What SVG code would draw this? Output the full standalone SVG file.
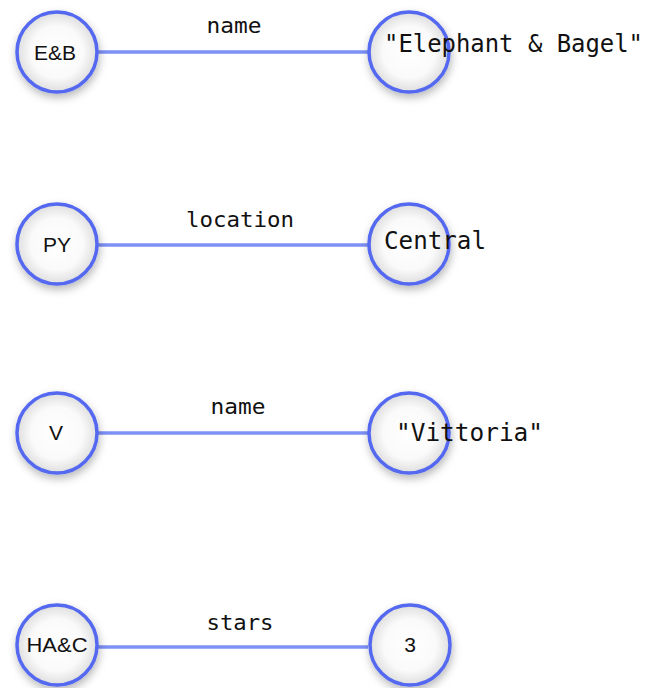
<svg xmlns="http://www.w3.org/2000/svg" width="652" height="688" viewBox="0 0 652 688">
<defs>
<radialGradient id="fillg" cx="50%" cy="50%" r="50%">
<stop offset="0%" stop-color="#ffffff"/>
<stop offset="65%" stop-color="#fafafa"/>
<stop offset="100%" stop-color="#dedede"/>
</radialGradient>
<filter id="shadow" x="-40%" y="-40%" width="180%" height="190%">
<feDropShadow dx="1" dy="4" stdDeviation="4" flood-color="#000" flood-opacity="0.28"/>
</filter>
</defs>
<style>
.node{fill:url(#fillg);stroke:#5468f0;stroke-width:3.5;filter:url(#shadow)}
.edge{stroke:#6f84f5;stroke-width:3.5;stroke-opacity:0.9}
.nlabel{font-family:"Liberation Sans",Arial,sans-serif;font-size:21px;fill:#111;text-anchor:middle}
.elabel{font-family:"DejaVu Sans Mono",monospace;font-size:21px;fill:#111;text-anchor:middle}
.value{font-family:"DejaVu Sans Mono",monospace;font-size:25px;fill:#111}
</style>
<rect width="652" height="688" fill="#ffffff"/>
<g id="connectors">
<line class="edge" x1="98" y1="52" x2="368" y2="52"/>
<line class="edge" x1="98" y1="245" x2="368" y2="245"/>
<line class="edge" x1="98" y1="433" x2="368" y2="433"/>
<line class="edge" x1="98" y1="647" x2="368" y2="647"/>
<text class="elabel" x="234" y="33" textLength="55" lengthAdjust="spacingAndGlyphs">name</text>
<text class="elabel" x="240" y="227" textLength="108" lengthAdjust="spacingAndGlyphs">location</text>
<text class="elabel" x="238" y="414" textLength="55" lengthAdjust="spacingAndGlyphs">name</text>
<text class="elabel" x="240" y="630" textLength="67" lengthAdjust="spacingAndGlyphs">stars</text>
</g>
<g id="node-eb">
<circle class="node" cx="57" cy="52" r="40"/>
<text class="nlabel" x="55" y="60">E&amp;B</text>
</g>
<g id="node-eb-name">
<circle class="node" cx="409" cy="52" r="40"/>
<text class="value" x="384" y="52" textLength="259" lengthAdjust="spacingAndGlyphs">"Elephant &amp; Bagel"</text>
</g>
<g id="node-py">
<circle class="node" cx="57" cy="244" r="40"/>
<text class="nlabel" x="57" y="252">PY</text>
</g>
<g id="node-central">
<circle class="node" cx="409" cy="244" r="40"/>
<text class="value" x="384" y="249" textLength="102" lengthAdjust="spacingAndGlyphs">Central</text>
</g>
<g id="node-v">
<circle class="node" cx="57" cy="433" r="40"/>
<text class="nlabel" x="56" y="440">V</text>
</g>
<g id="node-vittoria">
<circle class="node" cx="409" cy="433" r="40"/>
<text class="value" x="396" y="441" textLength="147" lengthAdjust="spacingAndGlyphs">"Vittoria"</text>
</g>
<g id="node-hac">
<circle class="node" cx="57" cy="645" r="40"/>
<text class="nlabel" x="57" y="652" textLength="61" lengthAdjust="spacingAndGlyphs">HA&amp;C</text>
</g>
<g id="node-3">
<circle class="node" cx="410" cy="645" r="40"/>
<text class="nlabel" x="410" y="652">3</text>
</g>
</svg>
